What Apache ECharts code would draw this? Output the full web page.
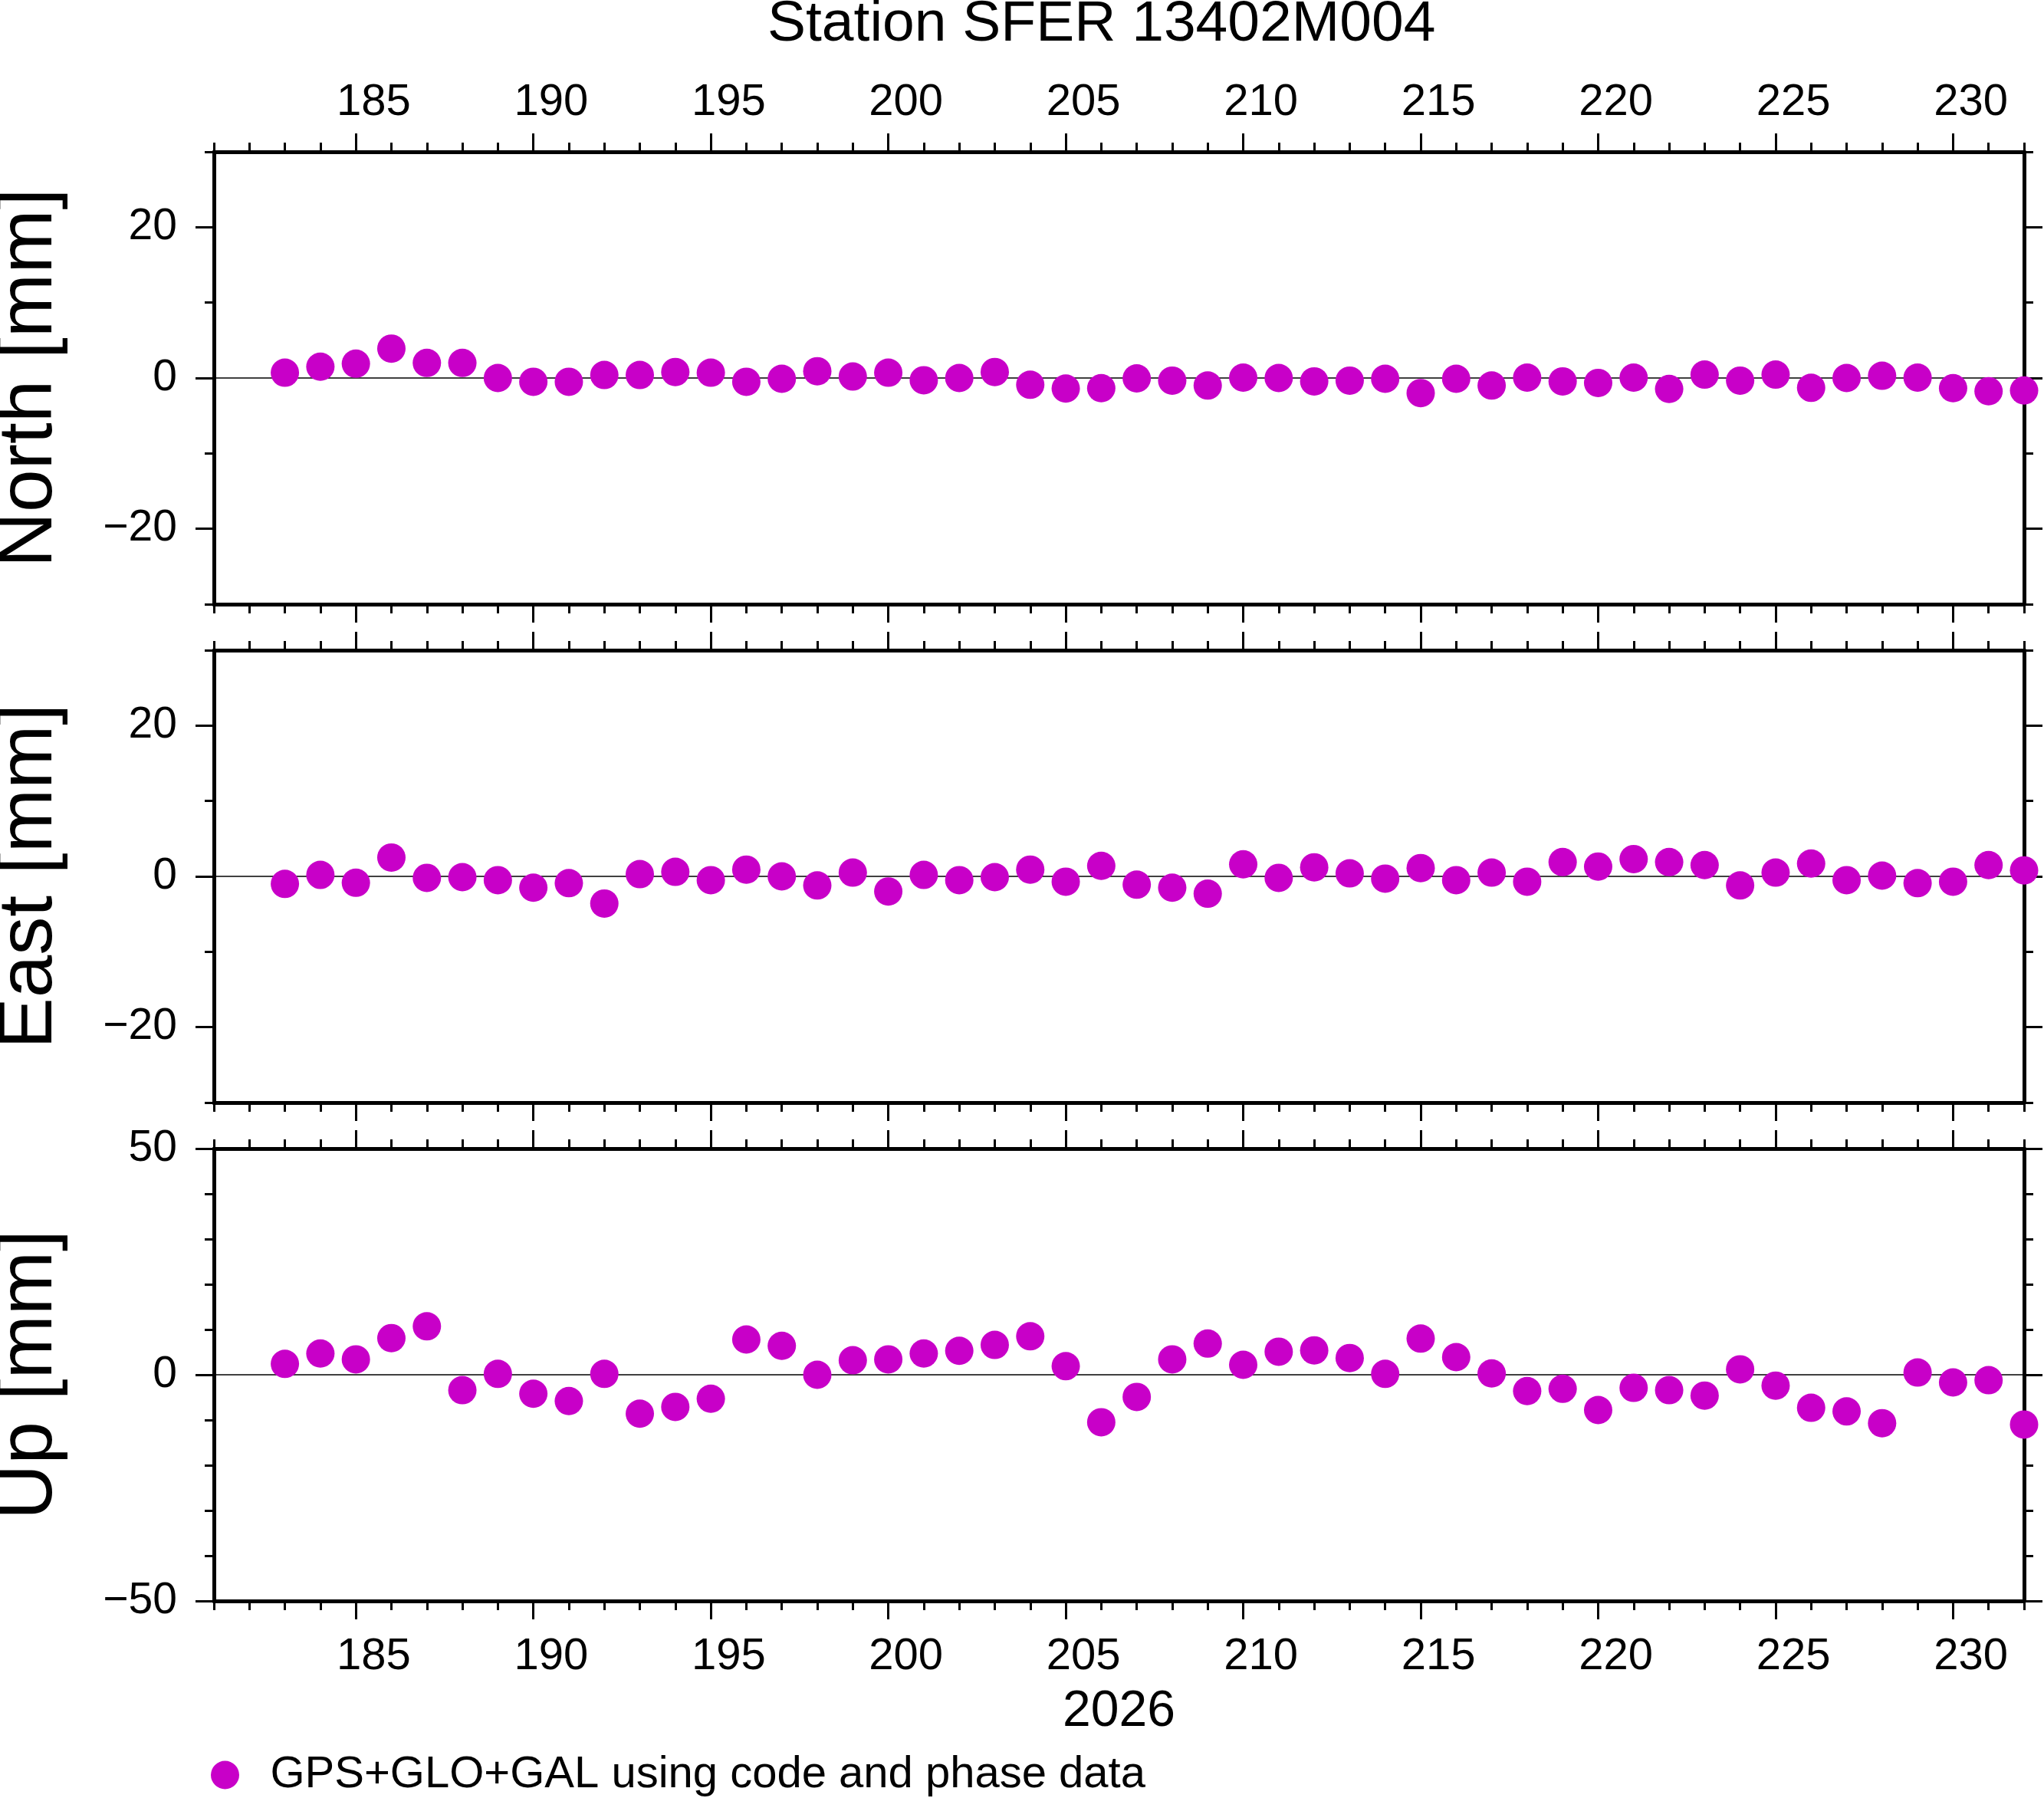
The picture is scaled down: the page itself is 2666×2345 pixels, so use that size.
<!DOCTYPE html>
<html>
<head>
<meta charset="utf-8">
<title>Station SFER 13402M004</title>
<script src="https://cdn.jsdelivr.net/npm/echarts@6/dist/echarts.min.js"></script>
<style>
  html, body { margin: 0; padding: 0; background: #fff; }
  #main { width: 2666px; height: 2345px; }
</style>
</head>
<body>
<div id="main"></div>
<script>
// day of year 2026
const days = [183, 184, 185, 186, 187, 188, 189, 190, 191, 192,
  193, 194, 195, 196, 197, 198, 199, 200, 201, 202,
  203, 204, 205, 206, 207, 208, 209, 210, 211, 212,
  213, 214, 215, 216, 217, 218, 219, 220, 221, 222,
  223, 224, 225, 226, 227, 228, 229, 230, 231, 232]

// residuals in mm
const north = [0.7, 1.5, 1.9, 3.9, 2.0, 2.0, 0.0, -0.5, -0.5, 0.4,
  0.4, 0.8, 0.7, -0.5, -0.1, 0.9, 0.2, 0.7, -0.3, 0.0,
  0.8, -0.9, -1.4, -1.35, -0.05, -0.35, -1.0, 0.05, 0.0, -0.45,
  -0.35, -0.1, -2.0, -0.1, -1.0, 0.05, -0.45, -0.65, 0.05, -1.45,
  0.45, -0.35, 0.45, -1.3, 0.0, 0.3, 0.05, -1.35, -1.75, -1.65]

const east = [-1.0, 0.2, -0.85, 2.5, -0.2, -0.1, -0.5, -1.5, -0.9, -3.6,
  0.3, 0.6, -0.5, 0.9, 0.0, -1.2, 0.5, -2.0, 0.2, -0.5,
  -0.1, 0.9, -0.7, 1.4, -1.1, -1.5, -2.3, 1.6, -0.2, 1.2,
  0.4, -0.3, 1.1, -0.5, 0.5, -0.7, 1.9, 1.3, 2.3, 1.9,
  1.5, -1.2, 0.5, 1.7, -0.5, 0.1, -0.9, -0.7, 1.5, 0.8]

const up = [2.4, 4.7, 3.4, 8.1, 10.7, -3.4, 0.2, -4.2, -5.8, 0.2,
  -8.6, -7.1, -5.3, 7.8, 6.4, 0.0, 3.2, 3.4, 4.7, 5.3,
  6.6, 8.5, 1.9, -10.5, -4.9, 3.4, 6.9, 2.2, 5.1, 5.4,
  3.7, 0.2, 8.0, 3.9, 0.3, -3.6, -3.1, -7.8, -2.9, -3.4,
  -4.6, 1.2, -2.4, -7.3, -8.1, -10.7, 0.5, -1.7, -1.2, -11.0]

// x ticks
const xMajorTicks = [185, 190, 195, 200, 205, 210, 215, 220, 225, 230]
const xMinorTicks = [181, 182, 183, 184, 185, 186, 187, 188, 189, 190,
  191, 192, 193, 194, 195, 196, 197, 198, 199, 200,
  201, 202, 203, 204, 205, 206, 207, 208, 209, 210,
  211, 212, 213, 214, 215, 216, 217, 218, 219, 220,
  221, 222, 223, 224, 225, 226, 227, 228, 229, 230, 231, 232]

// panels
const panelNames = ['North [mm]', 'East [mm]', 'Up [mm]']
const panelSeries = [north, east, up]
const yMins = [-30, -30, -50]
const yMaxs = [30, 30, 50]
const yMajorTicks = [[-20, 0, 20], [-20, 0, 20], [-50, 0, 50]]
const yMinorTicks = [
  [-30, -20, -10, 0, 10, 20, 30],
  [-30, -20, -10, 0, 10, 20, 30],
  [-50, -40, -30, -20, -10, 0, 10, 20, 30, 40, 50]
]

const title = 'Station SFER 13402M004'
const xName = '2026'
const legendName = 'GPS+GLO+GAL using code and phase data'

const FONT = 'Liberation Sans, Helvetica, Arial, sans-serif'
const MAGENTA = '#c800c8'
const gridTops = [198, 848, 1498]
const gridLeft = 279
const gridWidth = 2361
const gridHeight = 590

const fmt = v => (v < 0 ? '\u2212' + (-v) : String(v))

const tickAxis = (extra, values, len, showLine) => Object.assign({
  type: 'value',
  axisLine: { show: showLine, onZero: false, lineStyle: { color: '#000', width: 5 } },
  axisTick: { show: true, customValues: values, length: len, lineStyle: { color: '#000', width: 3 } },
  axisLabel: { show: false },
  splitLine: { show: false }
}, extra)

const grids = []
const xAxes = []
const yAxes = []
const series = []

gridTops.forEach((top, i) => {
  grids.push({
    left: gridLeft, top: top, width: gridWidth, height: gridHeight,
    containLabel: false, outerBoundsMode: 'none'
  })

  const xBase = { gridIndex: i, min: 181, max: 232 }
  xAxes.push(tickAxis(Object.assign({ position: 'bottom' }, xBase), xMajorTicks, 24, true))
  xAxes.push(tickAxis(Object.assign({ position: 'bottom' }, xBase), xMinorTicks, 12, false))
  xAxes.push(tickAxis(Object.assign({ position: 'top' }, xBase), xMajorTicks, 24, true))
  xAxes.push(tickAxis(Object.assign({ position: 'top' }, xBase), xMinorTicks, 12, false))

  const yBase = { gridIndex: i, min: yMins[i], max: yMaxs[i] }
  const yLeft = tickAxis(Object.assign({ position: 'left' }, yBase), yMajorTicks[i], 24, true)
  yLeft.axisLabel = {
    show: true, customValues: yMajorTicks[i], margin: 48, formatter: fmt,
    fontFamily: FONT, fontSize: 57, color: '#000', showMinLabel: true, showMaxLabel: true
  }
  yLeft.name = panelNames[i]
  yLeft.nameLocation = 'middle'
  yLeft.nameRotate = 90
  yLeft.nameGap = 190
  yLeft.nameTextStyle = { fontFamily: FONT, fontSize: 100, color: '#000' }
  yAxes.push(yLeft)
  yAxes.push(tickAxis(Object.assign({ position: 'left' }, yBase), yMinorTicks[i], 12, false))
  yAxes.push(tickAxis(Object.assign({ position: 'right' }, yBase), yMajorTicks[i], 24, true))
  yAxes.push(tickAxis(Object.assign({ position: 'right' }, yBase), yMinorTicks[i], 12, false))

  series.push({
    name: legendName,
    type: 'scatter',
    xAxisIndex: 4 * i,
    yAxisIndex: 4 * i,
    data: days.map((d, k) => [d, panelSeries[i][k]]),
    symbol: 'circle',
    symbolSize: 37,
    clip: false,
    z: 3,
    itemStyle: { color: MAGENTA, opacity: 1 },
    markLine: {
      silent: true,
      z: 1,
      symbol: ['none', 'none'],
      label: { show: false },
      lineStyle: { color: '#000', width: 1.5, type: 'solid' },
      data: [{ yAxis: 0 }]
    }
  })
})

// day labels sit half a day right of their tick
const labelAxis = (gridIndex, position, extra) => Object.assign({
  type: 'value',
  gridIndex: gridIndex,
  position: position,
  min: 180.5,
  max: 231.5,
  axisLine: { show: false, onZero: false },
  axisTick: { show: false },
  splitLine: { show: false },
  axisLabel: {
    show: true, customValues: xMajorTicks, fontFamily: FONT, fontSize: 58, color: '#000',
    margin: position === 'top' ? 35 : 44, showMinLabel: true, showMaxLabel: true
  }
}, extra)

xAxes.push(labelAxis(0, 'top', {}))
xAxes.push(labelAxis(2, 'bottom', {
  name: xName,
  nameLocation: 'middle',
  nameGap: 112,
  nameTextStyle: { fontFamily: FONT, fontSize: 66, color: '#000' }
}))

const chart = echarts.init(document.getElementById('main'))
chart.setOption({
  animation: false,
  backgroundColor: '#fff',
  title: {
    text: title,
    left: 1001,
    top: -5,
    padding: 0,
    textStyle: { fontFamily: FONT, fontSize: 75, fontWeight: 'normal', color: '#000' }
  },
  legend: {
    data: [legendName],
    left: 275,
    top: 2286,
    padding: 0,
    icon: 'circle',
    itemWidth: 108,
    itemHeight: 37,
    textStyle: { fontFamily: FONT, fontSize: 58, color: '#000' }
  },
  grid: grids,
  xAxis: xAxes,
  yAxis: yAxes,
  series: series
})
</script>
</body>
</html>
